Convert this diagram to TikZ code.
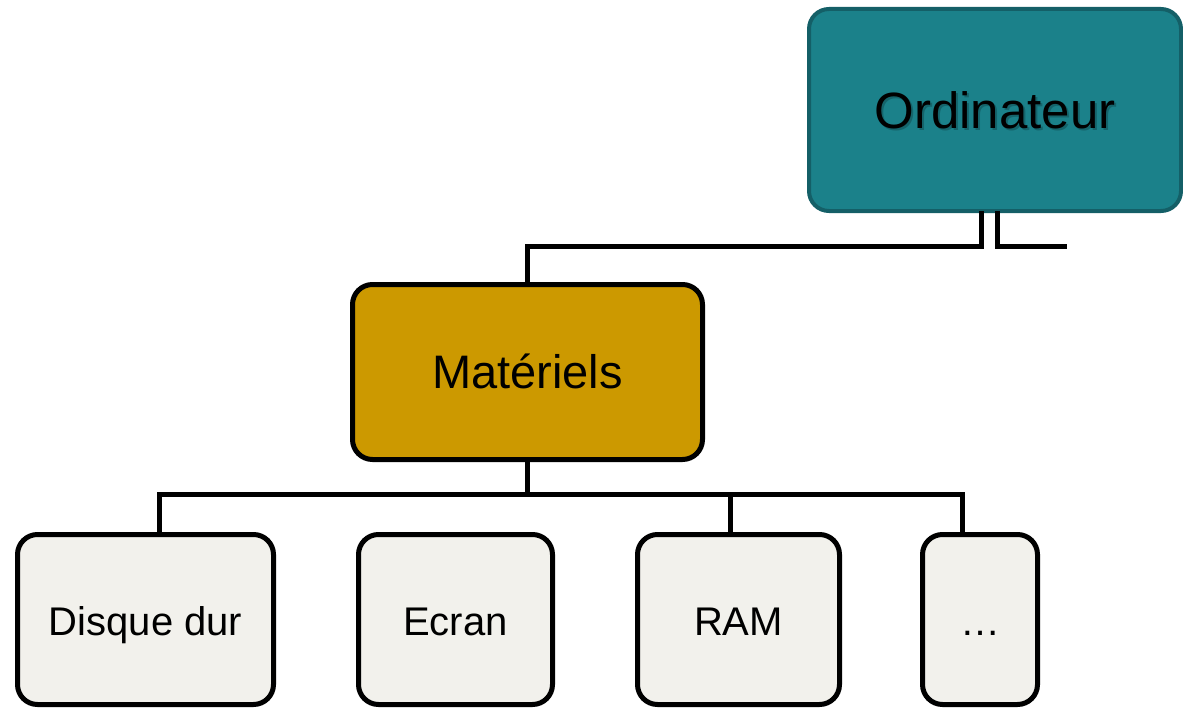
\documentclass[tikz,border=0pt]{standalone}
\usepackage{fontspec}
\setmainfont{Liberation Sans}
\definecolor{tealfill}{HTML}{1B818A}
\definecolor{tealedge}{HTML}{145F67}
\definecolor{goldfill}{HTML}{CC9900}
\definecolor{leaffill}{HTML}{F2F1EC}
\tikzset{
  box/.style={draw, rounded corners=20pt, inner sep=0pt, outer sep=0pt,
    align=center, text=black},
  rootbox/.style={box, fill=tealfill, draw=tealedge, line width=4pt},
  roottext/.style={inner sep=0pt, text height=36pt, text depth=0pt,
    font=\fontsize{51}{60}\selectfont},
  midbox/.style={box, fill=goldfill, line width=5pt, text height=32pt,
    text depth=0pt, font=\fontsize{47}{55}\selectfont},
  leafbox/.style={box, fill=leaffill, line width=5pt, text height=31pt,
    text depth=0pt, font=\fontsize{40}{48}\selectfont},
  conn/.style={draw=black, line width=5pt}
}
\begin{document}
\begin{tikzpicture}[x=1pt, y=-1pt]
  \useasboundingbox (0,0) rectangle (1183,709);

  % boxes
  \node[rootbox, minimum width=372pt, minimum height=202pt] (ord) at (995,110) {};
  \node[roottext, text=black, opacity=0.22] (ordshadow) at (997,112) {Ordinateur};
  \node[roottext] (ordtxt) at (995,110) {Ordinateur};

  \node[midbox, minimum width=350pt, minimum height=175pt] (mat) at (527.5,372) {Matériels};

  \node[leafbox, minimum width=256pt, minimum height=170pt] (dd)   at (145.5,619.5) {Disque dur};
  \node[leafbox, minimum width=194pt, minimum height=170pt] (ecr)  at (455.5,619.5) {Ecran};
  \node[leafbox, minimum width=202pt, minimum height=170pt] (ram)  at (738.5,619.5) {RAM};
  \node[leafbox, minimum width=115pt, minimum height=170pt] (dots) at (980,619.5) {\ldots};

  % upper connectors
  \coordinate (topbusL) at (981,246);
  \coordinate (topbusR) at (997,246);
  \coordinate (topend)  at (1067,246);
  \draw[conn] (mat.north) -- (mat.north |- topbusL) -- (topbusL) -- (ord.south -| topbusL);
  \draw[conn] (ord.south -| topbusR) -- (topbusR) -- (topend);

  % lower connectors
  \coordinate (busL) at (159,494);
  \coordinate (busR) at (962,494);
  \coordinate (ramtap) at (730,494);
  \draw[conn] (mat.south) -- (mat.south |- busL);
  \draw[conn] (dd.north -| busL) -- (busL) -- (busR) -- (dots.north -| busR);
  \draw[conn] (ramtap) -- (ram.north -| ramtap);
\end{tikzpicture}
\end{document}
